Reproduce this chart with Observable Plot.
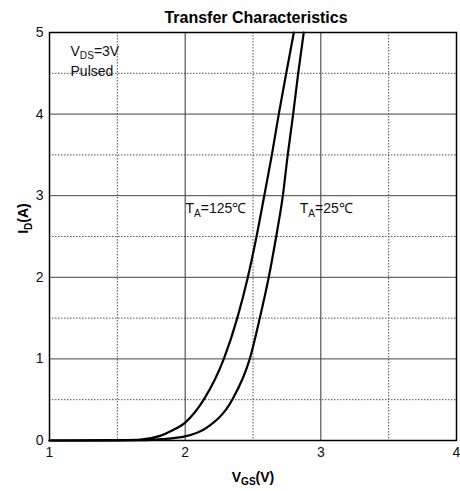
<!DOCTYPE html>
<html>
<head>
<meta charset="utf-8">
<script src="https://cdn.jsdelivr.net/npm/d3@7"></script>
<script src="https://cdn.jsdelivr.net/npm/@observablehq/plot@0.6"></script>
<style>
  html, body { margin: 0; padding: 0; background: #fff; }
</style>
</head>
<body>
<div id="chart"></div>
<script>
// ---- data ----
const vgs125 = [1.0, 1.3, 1.5, 1.67, 1.82, 1.9, 2.0, 2.137, 2.285, 2.384, 2.462, 2.526, 2.583, 2.639, 2.690, 2.745, 2.801];
const id125  = [0, 0.001, 0.004, 0.012, 0.06, 0.12, 0.22, 0.5, 1.0, 1.5, 2.0, 2.5, 3.0, 3.5, 4.0, 4.5, 5.0];
const vgs25 = [1.0, 1.5, 1.7, 1.82, 2.0, 2.162, 2.347, 2.476, 2.550, 2.616, 2.671, 2.720, 2.756, 2.796, 2.833, 2.874];
const id25  = [0, 0.001, 0.004, 0.016, 0.05, 0.16, 0.5, 1.0, 1.5, 2.0, 2.5, 3.0, 3.5, 4.0, 4.5, 5.0];

const xTicks = [1, 2, 3, 4];
const yTicks = [0, 1, 2, 3, 4, 5];
const xMajorGrid = [2, 3];
const yMajorGrid = [1, 2, 3, 4];
const xMinorGrid = [1.5, 2.5, 3.5];
const yMinorGrid = [0.5, 1.5, 2.5, 3.5, 4.5];

const titleText = "Transfer Characteristics";
const xLabel = "V_{GS}(V)";
const yLabel = "I_{D}(A)";
const noteText = ["V_{DS}=3V", "Pulsed"];
const noteX = [1.155, 1.155];
const noteY = [4.718, 4.473];
const curveLabels = ["T_{A}=125℃", "T_{A}=25℃"];
const curveLabelX = [2.002, 2.845];
const curveLabelY = [2.79, 2.79];

const curve125 = vgs125.map((v, i) => ({x: v, y: id125[i]}));
const curve25 = vgs25.map((v, i) => ({x: v, y: id25[i]}));
const notes = noteText.map((t, i) => ({t, x: noteX[i], y: noteY[i]}));
const clabels = curveLabels.map((t, i) => ({t, x: curveLabelX[i], y: curveLabelY[i]}));

const font = "'Liberation Sans', Arial, Helvetica, sans-serif";

const plot = Plot.plot({
  width: 460,
  height: 491,
  marginTop: 32,
  marginBottom: 51,
  marginLeft: 49,
  marginRight: 4,
  style: {fontFamily: font, fontSize: "14px", color: "#111", background: "#fff", overflow: "visible"},
  x: {domain: [1, 4], ticks: xTicks, tickSize: 0, tickPadding: 7, tickFormat: d => String(d), label: null},
  y: {domain: [0, 5], ticks: yTicks, tickSize: 0, tickPadding: 6, tickFormat: d => String(d), label: null},
  marks: [
    Plot.ruleX(xMinorGrid, {stroke: "#555", strokeWidth: 1, strokeDasharray: "1.5,1.5"}),
    Plot.ruleY(yMinorGrid, {stroke: "#555", strokeWidth: 1, strokeDasharray: "1.5,1.5"}),
    Plot.ruleX(xMajorGrid, {stroke: "#333", strokeWidth: 1}),
    Plot.ruleY(yMajorGrid, {stroke: "#444", strokeWidth: 1}),
    Plot.frame({stroke: "#000", strokeWidth: 1.5}),
    Plot.line(curve125, {x: "x", y: "y", curve: "monotone-x", stroke: "#000", strokeWidth: 2.2}),
    Plot.line(curve25, {x: "x", y: "y", curve: "monotone-x", stroke: "#000", strokeWidth: 2.2}),
    Plot.text(notes, {x: "x", y: "y", text: "t", textAnchor: "start", lineAnchor: "bottom", fontSize: 14, fill: "#111"}),
    Plot.text(clabels, {x: "x", y: "y", text: "t", textAnchor: "start", lineAnchor: "bottom", fontSize: 14, fill: "#111"}),
    Plot.text([titleText], {frameAnchor: "top", textAnchor: "middle", dx: 3, dy: -9.7, lineAnchor: "bottom", fontSize: 16, fontWeight: "bold", fill: "#000"}),
    Plot.text([xLabel], {frameAnchor: "bottom", textAnchor: "middle", dy: 41, lineAnchor: "bottom", fontSize: 14, fontWeight: "bold", fill: "#000"}),
    Plot.text([yLabel], {y: [2.72], frameAnchor: "left", textAnchor: "middle", dx: -21.5, rotate: -90, lineAnchor: "bottom", fontSize: 14, fontWeight: "bold", fill: "#000"})
  ]
});

// subscripts: turn "_{..}" into smaller, lowered tspans
d3.select(plot).selectAll("text").each(function() {
  const el = this;
  const s = el.textContent;
  if (!s.includes("_{")) return;
  const parts = s.split(/(_\{[^}]*\})/).filter(p => p);
  while (el.firstChild) el.removeChild(el.firstChild);
  let shifted = false;
  for (const p of parts) {
    const ts = document.createElementNS("http://www.w3.org/2000/svg", "tspan");
    if (p.startsWith("_{")) {
      ts.textContent = p.slice(2, -1);
      ts.setAttribute("font-size", "0.72em");
      ts.setAttribute("dy", "3.8");
      shifted = true;
    } else {
      ts.textContent = p;
      if (shifted) { ts.setAttribute("dy", "-3.8"); shifted = false; }
    }
    el.appendChild(ts);
  }
});

document.getElementById("chart").appendChild(plot);
</script>
</body>
</html>
